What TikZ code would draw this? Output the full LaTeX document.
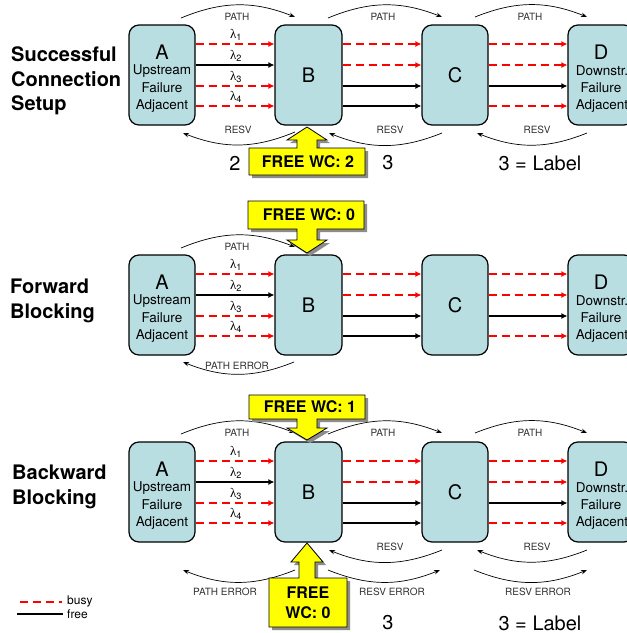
\documentclass[tikz,border=0pt]{standalone}
\usepackage{fontspec}
\setmainfont{TeX Gyre Heros}
\newfontfamily\grk{Liberation Serif}
\usetikzlibrary{arrows.meta}
\definecolor{boxfill}{RGB}{185,222,226}
\definecolor{wcyellow}{RGB}{255,255,0}
\definecolor{lbl}{RGB}{50,50,50}
\begin{document}
\begin{tikzpicture}[x=1pt,y=-1pt,
  box/.style={draw, line width=1.2pt, rounded corners=10pt, fill=boxfill, minimum height=100pt, inner sep=0pt},
  big/.style={font=\fontsize{20}{20}\selectfont},
  mid/.style={font=\fontsize{13.5}{16}\selectfont},
  lam/.style={font=\fontsize{13}{15}\selectfont},
  small/.style={font=\fontsize{10}{12}\selectfont, text=lbl},
  ttl/.style={font=\fontsize{20}{24.5}\selectfont\bfseries, align=left, anchor=west, inner sep=0pt},
  wc/.style={font=\fontsize{16}{20}\selectfont\bfseries, align=center},
  busy/.style={red, line width=1.8pt, dash pattern=on 8pt off 5pt, -{Latex[length=6pt,width=6pt]}},
  free/.style={black, line width=1.8pt, -{Latex[length=6pt,width=6pt]}},
  arc/.style={line width=0.7pt, -{Stealth[length=6pt,width=4.5pt]}},
  callout/.style={fill=wcyellow, draw=black, line width=0.8pt},
  shade/.style={fill=black!45}
]
\useasboundingbox (0,0) rectangle (627,633);
\fill[white] (0,0) rectangle (627,633);
\clip (0,0) rectangle (627,633);

% row titles
\node[ttl] (t1) at (11,81) {Successful\\Connection\\Setup};
\node[ttl] (t2) at (10,301) {Forward\\Blocking};
\node[ttl] (t3) at (12,487) {Backward\\Blocking};

% boxes and wavelength lines
\foreach \r/\dy in {1/0,2/230,3/417}{
  \node[box, minimum width=66pt] (A\r) at (162,75+\dy) {};
  \node[box, minimum width=67pt, big] (B\r) at (308.5,75+\dy) {B};
  \node[box, minimum width=66pt, big] (C\r) at (455,75+\dy) {C};
  \node[box, minimum width=66pt] (D\r) at (601,75+\dy) {};
  \node[big] (Al\r) at (162,52+\dy) {A};
  \node[mid] (Au\r) at (162,71+\dy) {Upstream};
  \node[mid] (Af\r) at (162,88+\dy) {Failure};
  \node[mid] (Aa\r) at (162,106+\dy) {Adjacent};
  \node[big] (Dl\r) at (601,52+\dy) {D};
  \node[mid] (Du\r) at (602,71+\dy) {Downstr.};
  \node[mid] (Df\r) at (601,88+\dy) {Failure};
  \node[mid] (Da\r) at (602,106+\dy) {Adjacent};
  \foreach \k/\yy/\ab/\bc/\cd in {1/44/busy/busy/busy, 2/65/free/busy/busy, 3/86/busy/free/free, 4/106/busy/free/busy}{
    \draw[\ab] (A\r.east |- 0,\yy+\dy) -- (B\r.west |- 0,\yy+\dy);
    \draw[\bc] (B\r.east |- 0,\yy+\dy) -- (C\r.west |- 0,\yy+\dy);
    \draw[\cd] (C\r.east |- 0,\yy+\dy) -- (D\r.west |- 0,\yy+\dy);
    \node[lam] (L\r\k) at (236,\yy+\dy-9) {{\grk λ}\textsubscript{\k}};
  }
}

% ---------- row 1 signalling
\coordinate (p1a) at (181,18);  \coordinate (p1b) at (295,17);
\coordinate (p1c) at (328,18);  \coordinate (p1d) at (442,17);
\coordinate (p1e) at (475,17);  \coordinate (p1f) at (587,17);
\draw[arc] (p1a) to[bend left=22] (p1b);
\draw[arc] (p1c) to[bend left=22] (p1d);
\draw[arc] (p1e) to[bend left=22] (p1f);
\node[small] (lp1a) at (237,17) {PATH};
\node[small] (lp1b) at (383,17) {PATH};
\node[small] (lp1c) at (530,17) {PATH};
\coordinate (r1a) at (295,132); \coordinate (r1b) at (183,133);
\coordinate (r1c) at (442,133); \coordinate (r1d) at (329,133);
\coordinate (r1e) at (587,133); \coordinate (r1f) at (477,133);
\draw[arc] (r1a) to[bend left=22] (r1b);
\draw[arc] (r1c) to[bend left=22] (r1d);
\draw[arc] (r1e) to[bend left=22] (r1f);
\node[small] (lr1a) at (238,130) {RESV};
\node[small] (lr1b) at (390,130) {RESV};
\node[small] (lr1c) at (537,130) {RESV};
\node[big] (n2) at (235,163) {2};
\node[big] (n3a) at (388,163) {3};
\node[big] (n3b) at (540,163) {3 = Label};

% ---------- row 2 signalling
\coordinate (p2a) at (181,248); \coordinate (p2b) at (295,247);
\draw[arc] (p2a) to[bend left=22] (p2b);
\node[small] (lp2a) at (237,247) {PATH};
\coordinate (e2a) at (294,362); \coordinate (e2b) at (183,362);
\draw[arc] (e2a) to[bend left=22] (e2b);
\node[small] (le2a) at (237,366) {PATH ERROR};

% ---------- row 3 signalling
\coordinate (p3a) at (181,434); \coordinate (p3b) at (295,433);
\coordinate (p3c) at (328,434); \coordinate (p3d) at (442,433);
\coordinate (p3e) at (475,433); \coordinate (p3f) at (587,433);
\draw[arc] (p3a) to[bend left=22] (p3b);
\draw[arc] (p3c) to[bend left=22] (p3d);
\draw[arc] (p3e) to[bend left=22] (p3f);
\node[small] (lp3a) at (237,433) {PATH};
\node[small] (lp3b) at (383,433) {PATH};
\node[small] (lp3c) at (530,433) {PATH};
\coordinate (r3c) at (442,550); \coordinate (r3d) at (329,550);
\coordinate (r3e) at (587,550); \coordinate (r3f) at (477,550);
\draw[arc] (r3c) to[bend left=22] (r3d);
\draw[arc] (r3e) to[bend left=22] (r3f);
\node[small] (lr3b) at (390,547) {RESV};
\node[small] (lr3c) at (537,547) {RESV};
\coordinate (e3a) at (295,570); \coordinate (e3b) at (183,570);
\draw[arc] (e3a) to[bend left=22] (e3b);
\node[small] (le3a) at (225,592) {PATH ERROR};
\coordinate (x3a) at (328,570); \coordinate (x3b) at (440,570);
\coordinate (x3c) at (474,570); \coordinate (x3d) at (587,570);
\draw[arc] (x3a) to[bend right=22] (x3b);
\draw[arc] (x3c) to[bend right=22] (x3d);
\node[small] (lx3a) at (392,592) {RESV ERROR};
\node[small] (lx3b) at (538,592) {RESV ERROR};
\node[big] (m3a) at (388,623) {3};
\node[big] (m3b) at (540,623) {3 = Label};

% ---------- callouts
% 1: FREE WC: 2 (up)
\def\cA{(249,148) -- (297,148) -- (297,140) -- (287,140) -- (307,127) -- (327,140) -- (317,140) -- (317,148) -- (365,148) -- (365,175) -- (249,175) -- cycle}
\fill[shade, shift={(3,3)}] \cA;
\path[callout] \cA;
\node[wc] (w1) at (308,162) {FREE WC: 2};
% 2: FREE WC: 0 (down)
\def\cB{(248,201) -- (364,201) -- (364,229) -- (317,229) -- (317,240) -- (327,240) -- (307,253) -- (287,240) -- (297,240) -- (297,229) -- (248,229) -- cycle}
\fill[shade, shift={(3,3)}] \cB;
\path[callout] \cB;
\node[wc] (w2) at (309,215) {FREE WC: 0};
% 3: FREE WC: 1 (down)
\def\cC{(249,395) -- (365,395) -- (365,419) -- (317,419) -- (317,428) -- (327,428) -- (307,440) -- (287,428) -- (297,428) -- (297,419) -- (249,419) -- cycle}
\fill[shade, shift={(3,3)}] \cC;
\path[callout] \cC;
\node[wc] (w3) at (310,407) {FREE WC: 1};
% 4: FREE WC: 0 (up, two lines)
\def\cD{(269,578) -- (299,578) -- (299,562) -- (291,562) -- (307,543) -- (323,562) -- (315,562) -- (315,578) -- (347,578) -- (347,627) -- (269,627) -- cycle}
\fill[shade, shift={(3,3)}] \cD;
\path[callout] \cD;
\node[wc] (w4) at (308,603) {FREE\\WC: 0};

% ---------- legend
\coordinate (g1a) at (20,602); \coordinate (g1b) at (62,602);
\coordinate (g2a) at (17,614); \coordinate (g2b) at (63,614);
\draw[red, line width=1.8pt, dash pattern=on 8pt off 5pt] (g1a) -- (g1b);
\draw[black, line width=1.8pt] (g2a) -- (g2b);
\node[font=\fontsize{12}{14}\selectfont, anchor=west, inner sep=0pt] (gb) at (67,601) {busy};
\node[font=\fontsize{12}{14}\selectfont, anchor=west, inner sep=0pt] (gf) at (67,614) {free};
\end{tikzpicture}
\end{document}
